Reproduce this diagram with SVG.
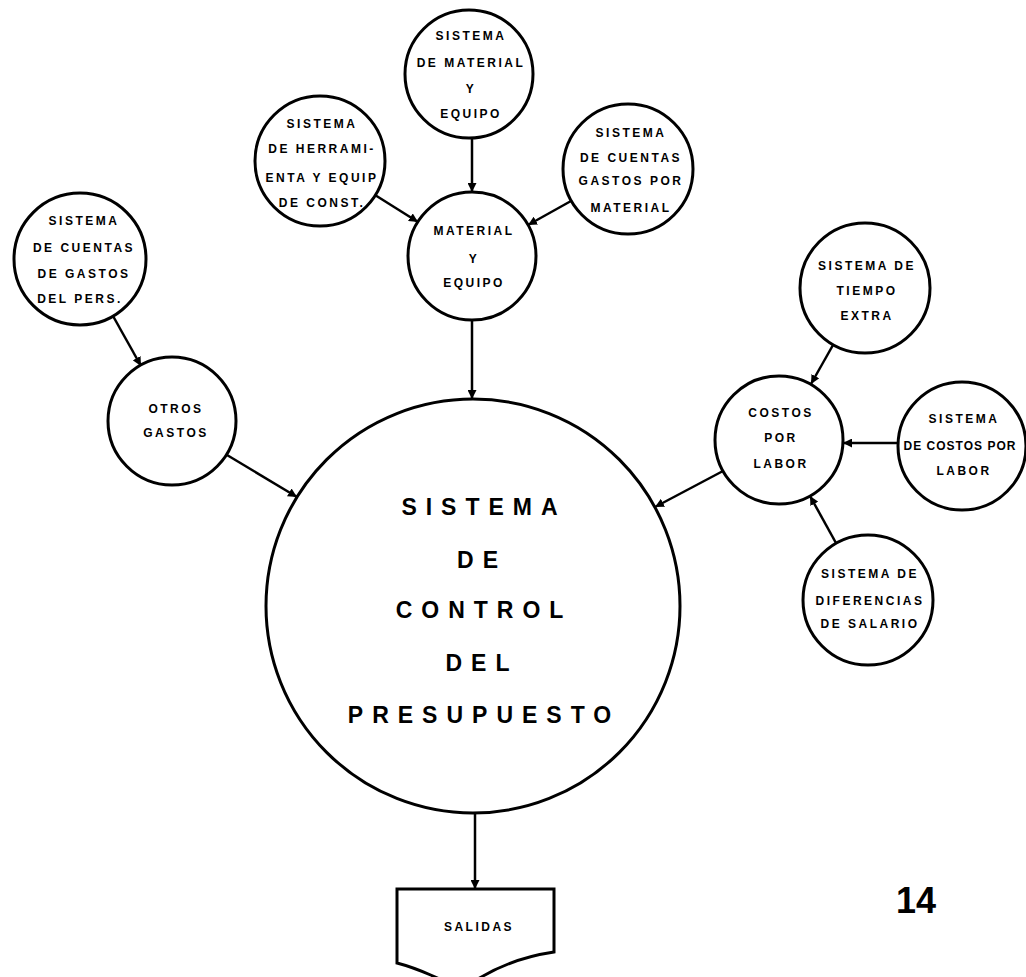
<svg xmlns="http://www.w3.org/2000/svg" width="1026" height="977" viewBox="0 0 1026 977">
  <defs>
    <marker id="arrow" viewBox="0 0 10 10" refX="10" refY="5" markerWidth="9" markerHeight="9" markerUnits="userSpaceOnUse" orient="auto">
      <path d="M0,0 L10,5 L0,10 Z" fill="#000"/>
    </marker>
    <style>
      .node { fill: #fff; stroke: #000; stroke-width: 3; }
      .lbl { font-family: "Liberation Sans", Arial, sans-serif; font-weight: bold; font-size: 12px; letter-spacing: 2.5px; text-anchor: middle; fill: #000; }
      .tight { letter-spacing: 1px; }
      .big { font-family: "Liberation Sans", Arial, sans-serif; font-weight: bold; font-size: 23px; letter-spacing: 9px; text-anchor: middle; fill: #000; }
      .conn line { stroke: #000; stroke-width: 2.5; marker-end: url(#arrow); }
      .page { font-family: "Liberation Sans", Arial, sans-serif; font-weight: bold; font-size: 36px; fill: #000; }
    </style>
  </defs>
  <rect width="1026" height="977" fill="#fff"/>

  <!-- connectors -->
  <g id="connectors" class="conn">
    <line x1="472" y1="138" x2="472" y2="192"/>
    <line x1="375" y1="195" x2="418" y2="222"/>
    <line x1="571" y1="201" x2="528" y2="225"/>
    <line x1="472" y1="320" x2="472" y2="399"/>
    <line x1="113" y1="316" x2="141" y2="366"/>
    <line x1="227" y1="455" x2="297" y2="497"/>
    <line x1="833" y1="345" x2="811" y2="384"/>
    <line x1="898" y1="443" x2="843" y2="443"/>
    <line x1="836" y1="543" x2="810" y2="496"/>
    <line x1="723" y1="471" x2="655" y2="507"/>
    <line x1="475" y1="813" x2="475" y2="889"/>
  </g>

  <g id="sist-material-equipo">
    <circle class="node" cx="469" cy="74" r="64"/>
    <text class="lbl" x="471" y="40">SISTEMA</text>
    <text class="lbl" x="471" y="67">DE MATERIAL</text>
    <text class="lbl" x="471" y="93">Y</text>
    <text class="lbl" x="471" y="118">EQUIPO</text>
  </g>

  <g id="sist-herramienta">
    <circle class="node" cx="320" cy="161" r="65"/>
    <text class="lbl" x="322" y="128">SISTEMA</text>
    <text class="lbl" x="322" y="153">DE HERRAMI-</text>
    <text class="lbl" x="322" y="182">ENTA Y EQUIP</text>
    <text class="lbl" x="322" y="207">DE CONST.</text>
  </g>

  <g id="sist-cuentas-material">
    <circle class="node" cx="628" cy="169" r="65"/>
    <text class="lbl" x="631" y="137">SISTEMA</text>
    <text class="lbl" x="631" y="162">DE CUENTAS</text>
    <text class="lbl" x="631" y="185">GASTOS POR</text>
    <text class="lbl" x="631" y="212">MATERIAL</text>
  </g>

  <g id="material-equipo">
    <circle class="node" cx="472" cy="256" r="64"/>
    <text class="lbl" x="474" y="235">MATERIAL</text>
    <text class="lbl" x="474" y="263">Y</text>
    <text class="lbl" x="474" y="287">EQUIPO</text>
  </g>

  <g id="sist-cuentas-personal">
    <circle class="node" cx="80" cy="259" r="66"/>
    <text class="lbl" x="84" y="225">SISTEMA</text>
    <text class="lbl" x="84" y="252">DE CUENTAS</text>
    <text class="lbl" x="84" y="278">DE GASTOS</text>
    <text class="lbl" x="80" y="303">DEL PERS.</text>
  </g>

  <g id="otros-gastos">
    <circle class="node" cx="172" cy="421" r="64"/>
    <text class="lbl" x="176" y="413">OTROS</text>
    <text class="lbl" x="176" y="437">GASTOS</text>
  </g>

  <g id="control-presupuesto">
    <circle class="node" cx="473" cy="606" r="207"/>
    <text class="big" x="484" y="515">SISTEMA</text>
    <text class="big" x="482" y="568">DE</text>
    <text class="big" x="484" y="618">CONTROL</text>
    <text class="big" x="482" y="671">DEL</text>
    <text class="big" x="484" y="723">PRESUPUESTO</text>
  </g>

  <g id="sist-tiempo-extra">
    <circle class="node" cx="865" cy="288" r="65"/>
    <text class="lbl" x="867" y="270">SISTEMA DE</text>
    <text class="lbl" x="867" y="295">TIEMPO</text>
    <text class="lbl" x="867" y="320">EXTRA</text>
  </g>

  <g id="costos-labor">
    <circle class="node" cx="779" cy="440" r="64"/>
    <text class="lbl" x="781" y="417">COSTOS</text>
    <text class="lbl" x="781" y="442">POR</text>
    <text class="lbl" x="781" y="468">LABOR</text>
  </g>

  <g id="sist-costos-labor">
    <circle class="node" cx="962" cy="446" r="64"/>
    <text class="lbl" x="964" y="423">SISTEMA</text>
    <text class="lbl tight" x="960" y="450">DE COSTOS POR</text>
    <text class="lbl" x="964" y="475">LABOR</text>
  </g>

  <g id="sist-diferencias-salario">
    <circle class="node" cx="868" cy="600" r="65"/>
    <text class="lbl" x="870" y="578">SISTEMA DE</text>
    <text class="lbl" x="870" y="605">DIFERENCIAS</text>
    <text class="lbl" x="870" y="628">DE SALARIO</text>
  </g>

  <g id="salidas">
    <path class="node" d="M397,889 H554 V952 C520,957 488,970 462,990 C442,980 420,969 397,963 Z"/>
    <text class="lbl" x="479" y="931">SALIDAS</text>
  </g>

  <text class="page" x="896" y="913">14</text>
</svg>
